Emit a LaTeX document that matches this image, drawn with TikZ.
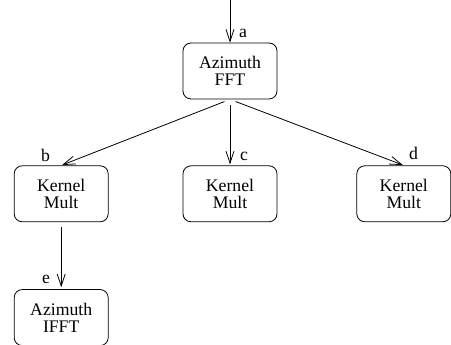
\documentclass[tikz,border=0pt]{standalone}
\usepackage{fontspec}
\setmainfont{LiberationSerif}[Extension=.ttf, UprightFont=*-Regular, BoldFont=*-Bold]
\usetikzlibrary{positioning}
\usetikzlibrary{arrows.meta}

\begin{document}
\begin{tikzpicture}[x=1pt,y=1pt,
  stage/.style={draw, line width=0.8pt, rounded corners=8pt, minimum width=94pt,
    minimum height=56pt, align=center, inner sep=0pt,
    font=\fontsize{17.7}{17}\selectfont},
  tag/.style={inner sep=0pt, font=\fontsize{17.7}{17}\selectfont},
  flow/.style={-{Straight Barb[length=12pt,width=8pt]}, line width=0.8pt}]
\def\gapdown{66pt}
\useasboundingbox (0,0) rectangle (451,345);

\node[stage] (fft) at (230,274) {Azimuth\\FFT};
\node[stage, below=\gapdown of fft] (multc) {Kernel\\Mult};
\node[stage, left=74pt of multc] (multb) {Kernel\\Mult};
\node[stage, right=79pt of multc] (multd) {Kernel\\Mult};
\node[stage, below=67pt of multb] (ifft) {Azimuth\\IFFT};

\coordinate (src) at (230,345);

\node[tag, above right=5pt and 9pt of fft.north] (ta) {a};
\node[tag, above left=4pt and 11pt of multb.north] (tb) {b};
\node[tag, above right=5pt and 10pt of multc.north] (tc) {c};
\node[tag, above right=6pt and 5pt of multd.north] (td) {d};
\node[tag, above left=5pt and 11pt of ifft.north] (te) {e};

\draw[flow] (src) -- (fft.north);
\draw[flow, shorten <=6pt, shorten >=1pt] (fft.south) -- (multb.north);
\draw[flow, shorten <=6pt, shorten >=1pt] (fft.south) -- (multc.north);
\draw[flow, shorten <=6pt, shorten >=1pt] (fft.south) -- (multd.north);
\draw[flow, shorten <=5pt, shorten >=2pt] (multb.south) -- (ifft.north);
\end{tikzpicture}
\end{document}
